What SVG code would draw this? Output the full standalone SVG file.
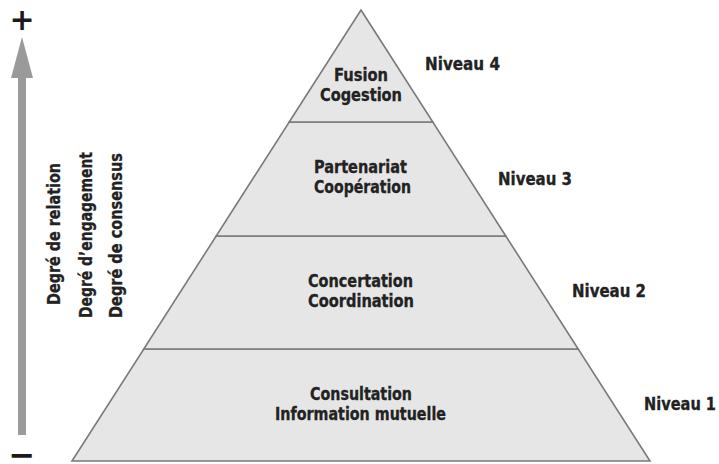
<svg xmlns="http://www.w3.org/2000/svg" width="719" height="464" viewBox="0 0 719 464">
<style>
.t{font-family:"DejaVu Sans Condensed","Liberation Sans",Arial,sans-serif;font-weight:bold;font-size:17px;fill:#222222;stroke:#222222;stroke-width:0.3;text-anchor:middle}
.lv{fill:#e6e6e6;stroke:#7a7a7a;stroke-width:1.6;stroke-linejoin:miter}
.sym{font-family:"DejaVu Sans","Liberation Sans",sans-serif;font-weight:bold;fill:#1a1a1a;text-anchor:middle}
</style>
<rect width="719" height="464" fill="#ffffff"/>
<g id="axis">
<rect x="18" y="74" width="8" height="361" fill="#9a9a9a"/>
<polygon points="22,37 33,78 11,78" fill="#9a9a9a"/>
<text class="sym" x="22" y="30" font-size="30">+</text>
<text class="sym" x="22" y="466" font-size="32">−</text>
</g>
<g id="axis-labels">
<text class="t" transform="translate(60,234) rotate(-90)" textLength="142" lengthAdjust="spacingAndGlyphs">Degré de relation</text>
<text class="t" transform="translate(92,235) rotate(-90)" textLength="166" lengthAdjust="spacingAndGlyphs">Degré d’engagement</text>
<text class="t" transform="translate(122,235.5) rotate(-90)" textLength="165" lengthAdjust="spacingAndGlyphs">Degré de consensus</text>
</g>
<g id="level1">
<polygon class="lv" points="143.8,349 578.2,349 650,461 72,461"/>
<text class="t" x="361" y="400" textLength="102" lengthAdjust="spacingAndGlyphs">Consultation</text>
<text class="t" x="360.5" y="420" textLength="171" lengthAdjust="spacingAndGlyphs">Information mutuelle</text>
<text class="t" x="680" y="410" textLength="72" lengthAdjust="spacingAndGlyphs">Niveau 1</text>
</g>
<g id="level2">
<polygon class="lv" points="216.2,236 505.8,236 578.2,349 143.8,349"/>
<text class="t" x="360.5" y="287" textLength="105" lengthAdjust="spacingAndGlyphs">Concertation</text>
<text class="t" x="361" y="307" textLength="106" lengthAdjust="spacingAndGlyphs">Coordination</text>
<text class="t" x="609" y="297" textLength="74" lengthAdjust="spacingAndGlyphs">Niveau 2</text>
</g>
<g id="level3">
<polygon class="lv" points="289.2,122 432.8,122 505.8,236 216.2,236"/>
<text class="t" x="360.5" y="173" textLength="93" lengthAdjust="spacingAndGlyphs">Partenariat</text>
<text class="t" x="362.5" y="193" textLength="97" lengthAdjust="spacingAndGlyphs">Coopération</text>
<text class="t" x="535" y="185" textLength="74" lengthAdjust="spacingAndGlyphs">Niveau 3</text>
</g>
<g id="level4">
<polygon class="lv" points="361,10 432.8,122 289.2,122"/>
<text class="t" x="361" y="81" textLength="54" lengthAdjust="spacingAndGlyphs">Fusion</text>
<text class="t" x="361" y="101" textLength="82" lengthAdjust="spacingAndGlyphs">Cogestion</text>
<text class="t" x="462.5" y="70" textLength="75" lengthAdjust="spacingAndGlyphs">Niveau 4</text>
</g>
</svg>
